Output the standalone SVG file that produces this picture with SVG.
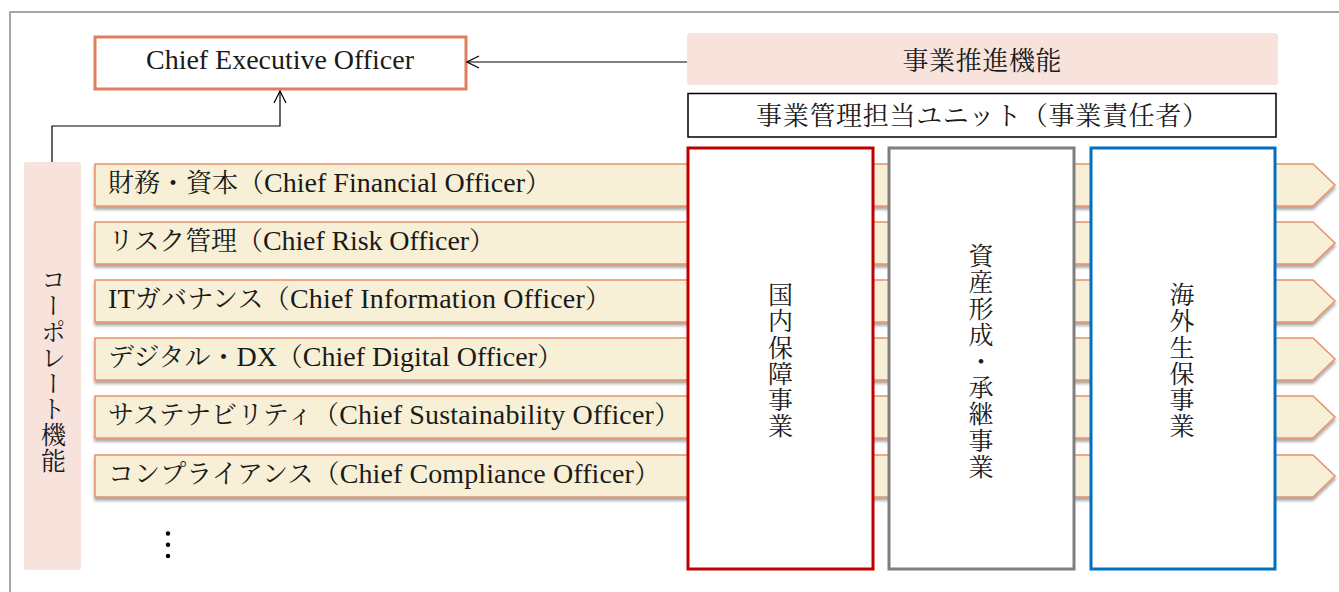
<svg xmlns="http://www.w3.org/2000/svg" width="1339" height="592" viewBox="0 0 1339 592">
  <style>
    .t { font-family: "Liberation Serif", "Noto Serif CJK JP", "Noto Sans CJK JP", serif; fill: #1a1a1a; }
    .row { fill: #f7f0d6; stroke: #e8906a; stroke-width: 1.5; filter: url(#sh); }
    .rowtxt { font-size: 26px; }
    .lat { font-size: 28px; }
    .pink { fill: #f8e3dc; }
    .vt { writing-mode: vertical-rl; font-size: 25px; }
    .conn { fill: none; stroke: #000; stroke-width: 1.2; }
  </style>
  <defs>
    <filter id="sh" x="-5%" y="-20%" width="110%" height="160%">
      <feDropShadow dx="0" dy="3" stdDeviation="1.8" flood-color="#000" flood-opacity="0.35"/>
    </filter>
    <marker id="ah" viewBox="0 0 14 14" refX="13" refY="7" markerWidth="14" markerHeight="14" markerUnits="userSpaceOnUse" orient="auto">
      <path d="M1,1 L13,7 L1,13" fill="none" stroke="#000" stroke-width="1.2"/>
    </marker>
  </defs>

  <path d="M10,592 V12 H1339" fill="none" stroke="#a6a6a6" stroke-width="2"/>

  <g id="ceo">
    <rect x="95" y="37" width="371" height="52" fill="#fff" stroke="#e07f5e" stroke-width="3"/>
    <text class="t" x="280" y="69" font-size="28" text-anchor="middle" textLength="268" lengthAdjust="spacing">Chief Executive Officer</text>
  </g>

  <g id="business-promotion">
    <rect class="pink" x="687" y="33" width="591" height="52" rx="3"/>
    <text class="t" x="982" y="70" font-size="26" text-anchor="middle" textLength="159" lengthAdjust="spacing">事業推進機能</text>
  </g>

  <g id="business-unit">
    <rect x="688" y="93.5" width="588" height="43.5" fill="#fff" stroke="#000" stroke-width="1.5"/>
    <text class="t" x="982" y="125" font-size="26" text-anchor="middle" textLength="452" lengthAdjust="spacing">事業管理担当ユニット（事業責任者）</text>
  </g>

  <g id="corporate">
    <rect class="pink" x="24" y="162" width="57" height="408" rx="2"/>
    <text class="t vt" x="51" y="267" font-size="24" style="letter-spacing:0.9px">コーポレート機能</text>
  </g>

  <g id="row1">
    <polygon class="row" points="95,164 1313,164 1335,185 1313,206 95,206"/>
    <text class="t rowtxt" x="108" y="192" textLength="443" lengthAdjust="spacing">財務・資本（<tspan class="lat">Chief Financial Officer</tspan>）</text>
  </g>
  <g id="row2">
    <polygon class="row" points="95,222 1313,222 1335,243 1313,264 95,264"/>
    <text class="t rowtxt" x="108" y="250" textLength="387" lengthAdjust="spacing">リスク管理（<tspan class="lat">Chief Risk Officer</tspan>）</text>
  </g>
  <g id="row3">
    <polygon class="row" points="95,280 1313,280 1335,301 1313,322 95,322"/>
    <text class="t rowtxt" x="108" y="308" textLength="503" lengthAdjust="spacing"><tspan class="lat">IT</tspan>ガバナンス（<tspan class="lat">Chief Information Officer</tspan>）</text>
  </g>
  <g id="row4">
    <polygon class="row" points="95,338 1313,338 1335,359 1313,380 95,380"/>
    <text class="t rowtxt" x="108" y="366" textLength="455" lengthAdjust="spacing">デジタル・<tspan class="lat">DX</tspan>（<tspan class="lat">Chief Digital Officer</tspan>）</text>
  </g>
  <g id="row5">
    <polygon class="row" points="95,396 1313,396 1335,417 1313,438 95,438"/>
    <text class="t rowtxt" x="108" y="424" textLength="572" lengthAdjust="spacing">サステナビリティ（<tspan class="lat">Chief Sustainability Officer</tspan>）</text>
  </g>
  <g id="row6">
    <polygon class="row" points="95,455 1313,455 1335,476 1313,497 95,497"/>
    <text class="t rowtxt" x="108" y="483" textLength="552" lengthAdjust="spacing">コンプライアンス（<tspan class="lat">Chief Compliance Officer</tspan>）</text>
  </g>

  <g id="ellipsis" fill="#000">
    <circle cx="168" cy="533.5" r="2.2"/>
    <circle cx="168" cy="544.8" r="2.2"/>
    <circle cx="168" cy="556" r="2.2"/>
  </g>

  <g id="domestic">
    <rect x="688" y="148" width="185" height="421" fill="#fff" stroke="#c00000" stroke-width="3"/>
    <text class="t vt" x="778" y="282" style="letter-spacing:1.3px">国内保障事業</text>
  </g>
  <g id="asset">
    <rect x="889" y="148" width="185" height="421" fill="#fff" stroke="#7f7f7f" stroke-width="3"/>
    <text class="t vt" x="978.5" y="243" style="letter-spacing:1.4px">資産形成・承継事業</text>
  </g>
  <g id="overseas">
    <rect x="1091" y="148" width="184" height="421" fill="#fff" stroke="#0070c0" stroke-width="3"/>
    <text class="t vt" x="1179.5" y="282" style="letter-spacing:1.3px">海外生保事業</text>
  </g>

  <g id="connectors">
    <path class="conn" d="M687,62 H467" marker-end="url(#ah)"/>
    <path class="conn" d="M52,162 V126 H280 V91" marker-end="url(#ah)"/>
  </g>
</svg>
